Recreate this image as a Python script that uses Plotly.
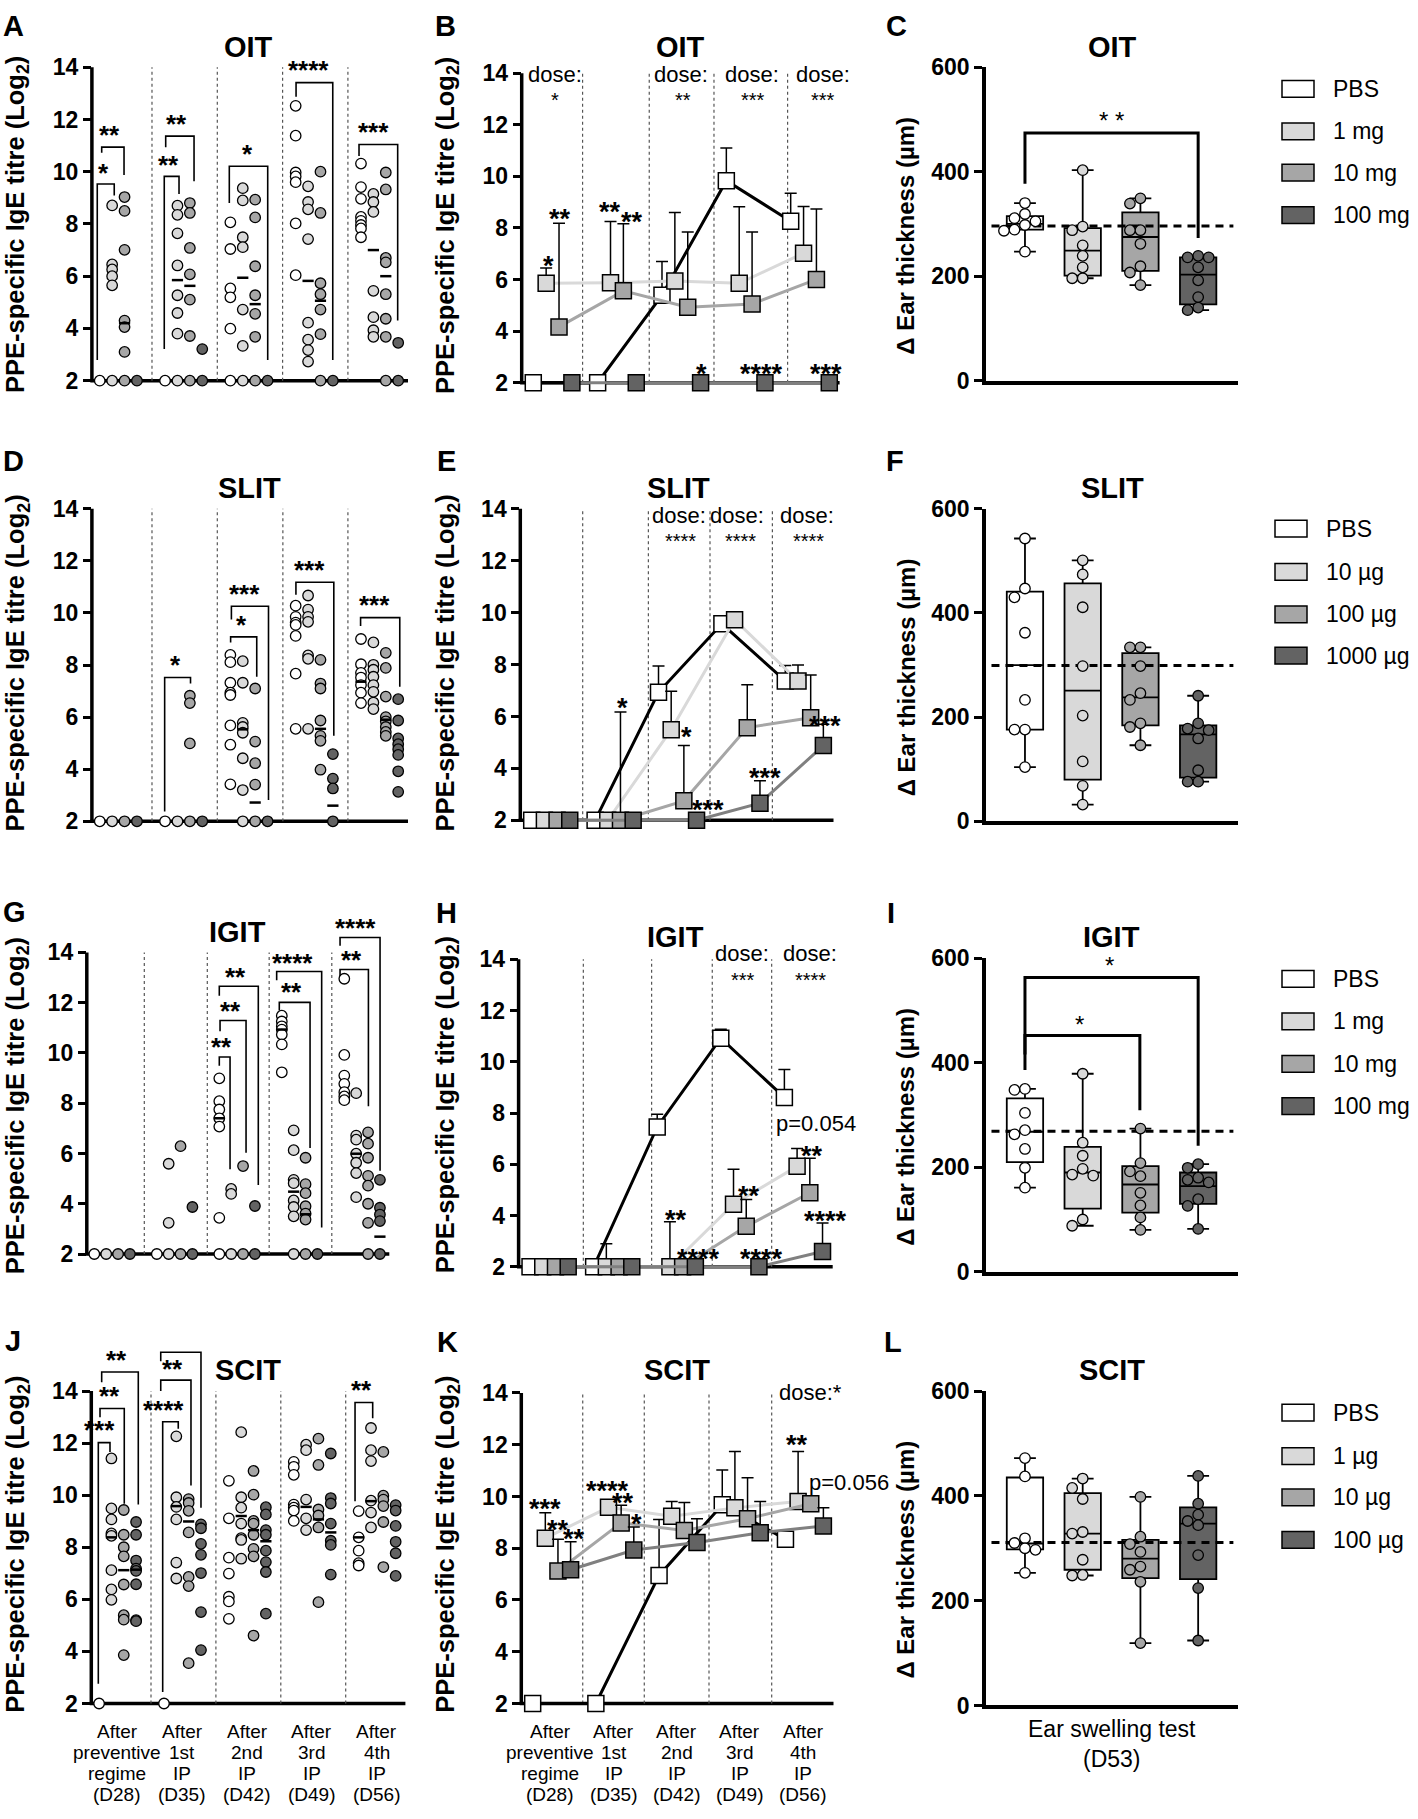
import plotly.graph_objects as go

W, H = 1418, 1819
FONT = "Liberation Sans, Arial, sans-serif"

# fill / line colours for PBS and the three doses
FILL = ["#ffffff", "#d9d9d9", "#a6a6a6", "#636363"]
TRACE = ["#000000", "#d9d9d9", "#a6a6a6", "#808080"]

timepoints = ["After<br>preventive<br>regime<br>(D28)", "After<br>1st<br>IP<br>(D35)",
              "After<br>2nd<br>IP<br>(D42)", "After<br>3rd<br>IP<br>(D49)",
              "After<br>4th<br>IP<br>(D56)"]

oit_doses = ["PBS", "1 mg", "10 mg", "100 mg"]
slit_doses = ["PBS", "10 µg", "100 µg", "1000 µg"]
igit_doses = ["PBS", "1 mg", "10 mg", "100 mg"]
scit_doses = ["PBS", "1 µg", "10 µg", "100 µg"]

# individual PPE-specific IgE titres (log2), [timepoint][dose]
oit_titre = [
    [[2], [8.71, 6.45, 6.26, 6.0, 5.65, 2], [9.03, 8.5, 7.01, 4.3, 4.05, 3.1, 2], [2]],
    [[2], [8.7, 8.35, 7.64, 6.41, 5.27, 4.59, 3.8, 2], [8.8, 8.42, 7.08, 6.07, 5.1, 3.71, 2], [3.21, 2]],
    [[8.06, 7.04, 5.53, 5.19, 3.99, 2], [9.37, 8.9, 7.49, 7.11, 4.72, 3.33, 2],
     [8.93, 8.25, 6.38, 5.27, 4.56, 3.68, 2], [2]],
    [[12.52, 11.38, 9.97, 9.82, 9.6, 8.02, 6.04], [9.44, 8.84, 8.56, 7.42, 4.22, 3.57, 3.17, 2.73],
     [10.0, 8.42, 5.73, 5.31, 4.72, 3.78, 2], [2]],
    [[10.31, 9.41, 8.96, 8.27, 8.12, 7.96, 7.83, 7.49], [9.15, 8.84, 8.46, 5.44, 4.43, 3.93, 3.68],
     [9.97, 9.32, 6.7, 6.53, 5.31, 4.37, 3.68, 2], [3.45, 2]],
]
slit_titre = [
    [[2], [2], [2], [2]],
    [[2], [2], [6.82, 6.54, 4.99, 2], [2]],
    [[8.39, 8.11, 7.32, 6.94, 6.85, 5.68, 4.94, 3.42], [8.15, 7.32, 5.78, 5.62, 5.4, 4.42, 3.2, 2],
     [7.1, 5.06, 4.23, 3.41, 2], [2]],
    [[10.28, 9.85, 9.63, 9.54, 9.12, 7.67, 5.55], [10.67, 10.13, 9.85, 9.66, 8.37, 8.24, 5.55],
     [8.2, 7.29, 7.1, 5.87, 5.28, 5.09, 3.98], [4.58, 3.64, 3.26, 2]],
    [[9.0, 8.03, 7.7, 7.52, 7.23, 6.94, 6.54], [8.87, 8.01, 7.82, 7.55, 7.23, 6.97, 6.56, 6.31],
     [8.47, 7.89, 6.79, 6.0, 5.84, 5.62, 5.43, 5.28], [6.69, 5.87, 5.18, 4.96, 4.77, 4.55, 3.92, 3.13]],
]
igit_titre = [
    [[2], [2], [2], [2]],
    [[2], [5.59, 3.24, 2], [6.29, 2], [3.87, 2]],
    [[8.99, 8.08, 7.75, 7.4, 7.07, 3.44, 2], [4.59, 4.39, 2], [5.5, 2], [3.91, 2]],
    [[11.48, 11.25, 11.06, 10.93, 10.73, 10.34, 9.23], [6.92, 6.13, 4.95, 4.82, 4.13, 3.87, 3.5, 2],
     [5.83, 4.78, 4.42, 3.9, 3.61, 3.37, 2], [2]],
    [[12.95, 9.92, 9.1, 8.77, 8.44, 8.27, 8.12], [8.4, 6.71, 6.55, 5.99, 5.63, 5.22, 4.26],
     [6.84, 6.39, 5.83, 5.11, 4.72, 4.0, 3.24, 2], [4.95, 3.84, 3.57, 3.31, 2]],
]
scit_titre = [
    [[2], [11.41, 9.49, 9.07, 8.53, 8.44, 7.12, 6.38, 5.98], [9.43, 8.48, 8.0, 7.65, 6.57, 5.39, 5.22, 3.86],
     [8.97, 8.48, 7.49, 7.18, 7.09, 6.58, 5.2, 5.16]],
    [[2], [12.26, 9.92, 9.55, 9.07, 7.41, 6.8], [9.85, 9.7, 9.4, 8.57, 6.86, 6.51, 3.55],
     [8.88, 8.73, 8.13, 7.71, 7.01, 5.51, 4.05]],
    [[10.55, 9.11, 7.6, 6.99, 6.1, 5.92, 5.25], [12.42, 9.92, 9.52, 8.91, 8.35, 8.28, 7.56],
     [10.93, 10.02, 9.01, 8.91, 8.48, 7.94, 7.65, 4.61], [9.54, 9.26, 8.66, 8.48, 7.87, 7.43, 7.05, 5.45]],
    [[11.28, 11.09, 10.78, 9.64, 9.52, 9.41, 9.01], [11.94, 11.73, 9.83, 9.11, 8.66],
     [12.17, 11.16, 9.45, 9.22, 8.76, 5.89], [11.6, 9.89, 9.68, 8.91, 8.25, 8.09, 6.95]],
    [[9.39, 8.38, 7.87, 7.39, 7.3], [12.58, 11.73, 11.31, 9.79, 9.33, 8.76],
     [11.66, 9.98, 9.83, 9.58, 8.97, 7.24], [9.62, 9.41, 8.82, 8.21, 7.77, 6.9]],
]

# group means shown as short dashes: (timepoint, dose, mean)
oit_titre_mean = [(0, 2, 4.2), (1, 1, 5.85), (1, 2, 5.63), (2, 1, 5.94), (2, 2, 4.93),
                  (3, 1, 5.82), (3, 2, 5.06), (4, 1, 7.0), (4, 2, 6.0)]
slit_titre_mean = [(2, 1, 5.53), (2, 2, 2.72), (3, 2, 5.55), (3, 3, 2.6), (4, 0, 7.36), (4, 2, 5.9)]
igit_titre_mean = [(2, 0, 7.4), (3, 0, 10.93), (3, 1, 4.48), (3, 2, 3.58), (4, 1, 5.99), (4, 3, 2.69)]
scit_titre_mean = [(0, 1, 8.38), (0, 2, 7.12), (0, 3, 7.14), (1, 1, 9.58), (1, 2, 8.99), (2, 1, 9.2),
                   (2, 2, 8.66), (2, 3, 8.23), (3, 1, 9.55), (3, 2, 9.07), (3, 3, 8.57), (4, 0, 8.38),
                   (4, 1, 9.77)]

# time course: mean titre and upper SD, [dose][timepoint]
oit_course = [[2, 2, 5.39, 9.83, 8.26], [5.85, 5.87, 5.94, 5.85, 7.02],
              [4.16, 5.56, 4.92, 5.05, 6.0], [2, 2, 2, 2, 2]]
oit_course_sd = [[0, 0, 1.31, 1.27, 1.08], [0.59, 2.38, 2.66, 2.97, 1.81],
                 [4.02, 2.6, 2.92, 2.79, 2.73], [0, 0, 0, 0, 0]]
slit_course = [[2, 2, 6.93, 9.57, 7.37], [2, 2, 5.49, 9.73, 7.37],
               [2, 2, 2.75, 5.57, 5.95], [2, 2, 2, 2.66, 4.88]]
slit_course_sd = [[0, 0, 1.01, 0, 0.59], [0, 0, 1.48, 0, 0.61],
                  [0, 4.17, 2.13, 1.65, 1.65], [0, 0, 0, 0.86, 0.82]]
igit_course = [[2, 2, 7.46, 10.92, 8.61], [2, 2, 2, 4.44, 5.92],
               [2, 2, 2, 3.58, 4.89], [2, 2, 2, 2, 2.6]]
igit_course_sd = [[0, 0, 0.49, 0.35, 1.09], [0, 0.9, 1.76, 1.37, 0.7],
                  [0, 0, 0, 1.05, 1.35], [0, 0, 0, 0, 1.11]]
scit_course = [[2, 2, 6.95, 9.68, 8.35], [8.39, 9.58, 9.24, 9.56, 9.81],
               [7.12, 8.98, 8.69, 9.14, 9.72], [7.17, 7.93, 8.22, 8.6, 8.86]]
scit_course_sd = [[0, 0, 2.16, 1.34, 0], [0.98, 0, 0.57, 2.18, 1.93],
                  [1.23, 0.68, 1.08, 1.58, 0], [1.08, 0.89, 0.92, 1.21, 0.7]]

# ear swelling (µm) per dose, box quartiles (q1, median, q3) and PBS reference
oit_ear = [[340, 319, 311, 305, 298, 289, 287, 247], [403, 295, 288, 259, 239, 217, 196, 196],
           [349, 339, 288, 288, 262, 219, 207, 183], [239, 236, 236, 217, 192, 160, 140, 135]]
oit_ear_box = [(289, 300, 315), (201, 249, 292), (210, 275, 322), (146, 203, 236)]
oit_ear_ref = 296
slit_ear = [[543, 447, 430, 362, 233, 176, 176, 104], [501, 474, 411, 298, 203, 115, 68, 32],
            [334, 334, 298, 246, 233, 188, 181, 146], [241, 188, 178, 175, 159, 98, 76, 76]]
slit_ear_box = [(176, 300, 441), (80, 251, 457), (184, 238, 323), (84, 167, 184)]
slit_ear_ref = 299
igit_ear = [[350, 348, 304, 271, 263, 235, 199, 161], [379, 247, 222, 197, 186, 184, 100, 88],
            [274, 208, 192, 183, 151, 127, 104, 80], [206, 199, 180, 176, 171, 139, 126, 82]]
igit_ear_box = [(210, 268, 332), (121, 190, 239), (113, 167, 202), (130, 164, 190)]
igit_ear_ref = 269
scit_ear = [[472, 437, 319, 310, 300, 297, 253], [433, 415, 394, 331, 328, 278, 249, 248],
            [398, 322, 308, 293, 265, 259, 236, 119], [438, 385, 364, 352, 344, 287, 224, 124]]
scit_ear_box = [(298, 309, 435), (259, 328, 405), (243, 280, 316), (241, 347, 378)]
scit_ear_ref = 311

# significance brackets: (x left, x right, y top, y left end, y right end, label, label x, label y)
oit_titre_sig = [(0.81, 2.11, 9.53, 2.79, 9.09, "*", 1.32, 10.2),
                 (1.15, 2.86, 10.94, 10.73, 9.87, "**", 1.73, 11.65),
                 (5.94, 7.07, 9.82, 3.21, 9.15, "**", 6.25, 10.48),
                 (6.05, 8.22, 11.36, 10.94, 9.63, "**", 6.89, 12.05),
                 (10.92, 13.86, 10.21, 8.8, 2.79, "*", 12.3, 10.92),
                 (16.03, 18.84, 13.41, 12.87, 2.79, "****", 16.97, 14.13),
                 (20.85, 23.81, 11.04, 10.6, 4.3, "***", 21.95, 11.74)]
slit_titre_sig = [(5.97, 7.95, 7.52, 2.38, 7.29, "*", 6.79, 8.24),
                  (11.02, 13.02, 9.08, 8.87, 7.55, "*", 11.87, 9.79),
                  (11.08, 13.92, 10.26, 9.75, 2.82, "***", 12.05, 10.95),
                  (16.02, 18.92, 11.18, 10.7, 5.28, "***", 17.05, 11.9),
                  (20.97, 23.97, 9.82, 9.5, 7.17, "***", 22.05, 10.55)]
igit_titre_sig = [(11.0, 11.86, 9.84, 9.49, 5.37, "**", 11.19, 10.5),
                  (11.06, 13.14, 11.29, 10.86, 6.03, "**", 11.86, 11.93),
                  (11.0, 14.12, 12.65, 12.27, 4.75, "**", 12.28, 13.28),
                  (15.8, 18.26, 12.01, 11.69, 6.22, "**", 16.79, 12.67),
                  (15.59, 19.19, 13.24, 12.89, 3.05, "****", 16.87, 13.84),
                  (20.66, 22.93, 13.32, 13.06, 7.88, "**", 21.59, 13.96),
                  (20.66, 23.86, 14.59, 14.26, 5.31, "****", 21.86, 15.2)]
scit_titre_sig = [(0.94, 1.84, 12.02, 2.76, 11.66, "***", 1.07, 12.74),
                  (1.07, 2.94, 13.33, 12.99, 9.67, "**", 1.84, 14.04),
                  (1.2, 4.02, 14.73, 14.34, 9.64, "**", 2.36, 15.43),
                  (5.9, 7.1, 12.82, 2.44, 12.55, "****", 6.0, 13.52),
                  (5.75, 8.08, 14.42, 14.0, 10.37, "**", 6.67, 15.1),
                  (5.75, 8.85, 15.49, 15.14, 9.52, "*", 7.23, 16.15),
                  (20.72, 22.08, 13.56, 9.77, 12.95, "**", 21.18, 14.29)]
oit_ear_sig = [(1, 4, 474, 377, 273, "* *", 2.5, 509)]
igit_ear_sig = [(1, 2.99, 452, 386, 309, "*", 1.95, 485),
                (1, 4, 563, 416, 241, "*", 2.46, 597)]

# time course notes: (x, y, text, style)
oit_course_notes = [(2.68, 13.94, "dose:", "dose"), (2.68, 13.14, "*", "dstar"),
                    (12.47, 13.94, "dose:", "dose"), (12.66, 13.14, "**", "dstar"),
                    (17.96, 13.94, "dose:", "dose"), (18.09, 13.14, "***", "dstar"),
                    (23.48, 13.94, "dose:", "dose"), (23.53, 13.14, "***", "dstar"),
                    (2.17, 6.76, "*", "star"), (3.07, 8.6, "**", "star"), (6.96, 8.86, "**", "star"),
                    (8.64, 8.48, "**", "star"), (14.08, 2.6, "*", "star"), (18.74, 2.6, "****", "star"),
                    (23.74, 2.6, "***", "star")]
slit_course_notes = [(12.65, 13.75, "dose:", "dose"), (12.7, 12.96, "****", "dstar"),
                     (17.17, 13.75, "dose:", "dose"), (17.43, 12.96, "****", "dstar"),
                     (22.74, 13.75, "dose:", "dose"), (22.82, 12.96, "****", "dstar"),
                     (8.15, 6.59, "*", "star"), (13.22, 5.45, "*", "star"), (14.93, 2.66, "***", "star"),
                     (19.4, 3.89, "***", "star"), (24.13, 5.89, "***", "star")]
igit_course_notes = [(17.69, 14.23, "dose:", "dose"), (17.77, 13.36, "***", "dstar"),
                     (23.03, 14.23, "dose:", "dose"), (23.03, 13.36, "****", "dstar"),
                     (12.44, 4.09, "**", "star"), (14.28, 2.55, "****", "star"),
                     (19.19, 2.55, "****", "star"), (18.22, 5.02, "**", "star"),
                     (23.21, 6.56, "**", "star"), (24.26, 4.05, "****", "star"),
                     (20.19, 7.58, "p=0.054", "p")]
scit_course_notes = [(20.31, 14.0, "dose:*", "p"), (1.98, 9.75, "***", "star"), (3.03, 8.95, "**", "star"),
                     (4.27, 8.6, "**", "star"), (6.91, 10.47, "****", "star"), (8.17, 10.0, "**", "star"),
                     (9.23, 9.2, "*", "star"), (21.89, 12.25, "**", "star"),
                     (22.68, 10.55, "p=0.056", "p")]

fig = go.Figure()
shapes, anns = [], []
layout = dict(width=W, height=H, margin=dict(l=0, r=0, t=0, b=0),
              paper_bgcolor="white", plot_bgcolor="white", showlegend=False)


def sfx(n):
    return "" if n == 1 else str(n)


def ydom(cal, rng):
    v_top, px_top, v_bot, px_bot = cal
    k = (px_bot - px_top) / (v_top - v_bot)
    top = px_top - (rng[1] - v_top) * k
    bot = px_bot + (v_bot - rng[0]) * k
    return [1 - bot / H, 1 - top / H]


def setup_axes(n, kind, xpx, cal):
    if kind == "box":
        xr, yr = [0.325, 4.69], [0, 600]
    elif kind == "dots":
        xr, yr = [0.4, 24.6], [1.5, 16]
    else:
        xr, yr = [0.1, 24.8], [1.5, 16]
    tickfont = dict(family=FONT, size=23, color="black", weight="bold")
    box = kind == "box"
    layout["xaxis" + sfx(n)] = dict(domain=[xpx[0] / W, xpx[1] / W], range=xr, anchor="y" + sfx(n),
                                    showgrid=False, zeroline=False, ticks="", showticklabels=False,
                                    showline=box, linewidth=3.5, linecolor="black")
    layout["yaxis" + sfx(n)] = dict(domain=ydom(cal, yr), range=yr, anchor="x" + sfx(n),
                                    showgrid=False, zeroline=False, ticks="outside", ticklen=8,
                                    tickwidth=3, tickcolor="black", tickfont=tickfont,
                                    tickvals=[0, 200, 400, 600] if box else list(range(2, 15, 2)),
                                    showline=box, linewidth=3.5, linecolor="black")
    if not box:
        xa, ya = "x" + sfx(n), "y" + sfx(n)
        shapes.append(dict(type="line", xref=xa + " domain", yref=ya, x0=0, x1=0, y0=2, y1=14,
                           layer="below", line=dict(color="black", width=3.5)))
        shapes.append(dict(type="line", xref=xa + " domain", yref=ya, x0=-0.005, x1=1, y0=2, y1=2,
                           layer="below", line=dict(color="black", width=3.5)))


def text_ann(n, x, y, text, size, bold=False, star=False, xanchor="center"):
    anns.append(dict(xref="x" + sfx(n), yref="y" + sfx(n), x=x, y=y, text=text, showarrow=False,
                     xanchor=xanchor, yanchor="middle", yshift=-0.24 * size if star else 0,
                     font=dict(family=FONT, size=size, color="black",
                               weight="bold" if bold else "normal")))


def paper_ann(px, py, text, size, bold=False, angle=0, xanchor="center"):
    anns.append(dict(xref="paper", yref="paper", x=px / W, y=1 - py / H, text=text, showarrow=False,
                     xanchor=xanchor, yanchor="middle", textangle=angle,
                     font=dict(family=FONT, size=size, color="black",
                               weight="bold" if bold else "normal")))


def add_dividers(n, divs):
    for d in divs:
        shapes.append(dict(type="line", xref="x" + sfx(n), yref="y" + sfx(n), x0=d, x1=d, y0=2, y1=14,
                           layer="below", line=dict(color="#555555", width=1.2, dash="dot")))


def add_sig(n, sig, lw, size, bold):
    for xl, xr, yt, yl, yr, lab, lx, ly in sig:
        fig.add_trace(go.Scatter(x=[xl, xl, xr, xr], y=[yl, yt, yt, yr], mode="lines",
                                 line=dict(color="black", width=lw), xaxis="x" + sfx(n),
                                 yaxis="y" + sfx(n), hoverinfo="skip", showlegend=False))
        text_ann(n, lx, ly, lab, size, bold=bold, star=True)


def add_dots(n, titres, means, sig, divs):
    xa, ya = "x" + sfx(n), "y" + sfx(n)
    add_dividers(n, divs)
    for d in range(4):
        xs, ys = [], []
        for g in range(5):
            for v in titres[g][d]:
                xs.append(5 * g + 1 + 0.95 * d)
                ys.append(v)
        fig.add_trace(go.Scatter(x=xs, y=ys, mode="markers", cliponaxis=False,
                                 marker=dict(symbol="circle", size=10.5, color=FILL[d],
                                             line=dict(color="black", width=1.3)),
                                 xaxis=xa, yaxis=ya, hoverinfo="skip", showlegend=False))
    fig.add_trace(go.Scatter(x=[5 * g + 1 + 0.95 * d for g, d, v in means], y=[v for g, d, v in means],
                             mode="markers", cliponaxis=False,
                             marker=dict(symbol="line-ew", size=8, line=dict(color="black", width=2.5)),
                             xaxis=xa, yaxis=ya, hoverinfo="skip", showlegend=False))
    add_sig(n, sig, 1.6, 26, True)


def add_course(n, course, sd, notes, divs):
    xa, ya = "x" + sfx(n), "y" + sfx(n)
    add_dividers(n, divs)
    for d in range(4):
        fig.add_trace(go.Scatter(
            x=[5 * g + 1 + d for g in range(5)], y=course[d], mode="lines+markers", cliponaxis=False,
            line=dict(color=TRACE[d], width=3),
            marker=dict(symbol="square", size=16, color=FILL[d], line=dict(color="black", width=1.5)),
            error_y=dict(type="data", array=sd[d], arrayminus=[0] * 5, symmetric=False,
                         color="black", thickness=1.5, width=6),
            xaxis=xa, yaxis=ya, hoverinfo="skip", showlegend=False))
    styles = {"dose": (22, False, False, "center"), "dstar": (20, False, True, "center"),
              "star": (27, True, True, "center"), "p": (22, False, False, "left")}
    for x, y, text, st in notes:
        size, bold, star, anchor = styles[st]
        text_ann(n, x, y, text, size, bold=bold, star=star, xanchor=anchor)


def swarm(values, ky, kx, diam=10.5):
    placed, offs = [], [0.0] * len(values)
    for i in sorted(range(len(values)), key=lambda i: -values[i]):
        y = values[i] * ky
        for m in [0, -1, 1, -2, 2, -3, 3]:
            x = m * diam
            if all((x - px) ** 2 + (y - py) ** 2 >= (0.95 * diam) ** 2 for px, py in placed):
                break
        placed.append((x, y))
        offs[i] = x / kx
    return offs


def add_box(n, ear, box, ref, sig, doses, leg_x, leg_rows, cal):
    xa, ya = "x" + sfx(n), "y" + sfx(n)
    for d in range(4):
        q1, med, q3 = box[d]
        fig.add_trace(go.Box(x=[d + 1], q1=[q1], median=[med], q3=[q3], lowerfence=[min(ear[d])],
                             upperfence=[max(ear[d])], orientation="v", width=0.63, whiskerwidth=0.6,
                             fillcolor=FILL[d], line=dict(color="black", width=1.8), boxpoints=False,
                             xaxis=xa, yaxis=ya, hoverinfo="skip", showlegend=False))
    fig.add_trace(go.Scatter(x=[0.42, 4.61], y=[ref, ref], mode="lines",
                             line=dict(color="black", width=3, dash="8px,6px"),
                             xaxis=xa, yaxis=ya, hoverinfo="skip", showlegend=False))
    ky = (cal[3] - cal[1]) / 600
    kx = 252 / (4.69 - 0.325)
    for d in range(4):
        offs = swarm(ear[d], ky, kx)
        fig.add_trace(go.Scatter(x=[d + 1 + o for o in offs], y=ear[d], mode="markers", cliponaxis=False,
                                 marker=dict(size=10.5, color=FILL[d], line=dict(color="black", width=1.3)),
                                 xaxis=xa, yaxis=ya, hoverinfo="skip", showlegend=False))
    for xl, xr, yt, yl, yr, lab, lx, ly in sig:
        fig.add_trace(go.Scatter(x=[xl, xl, xr, xr], y=[yl, yt, yt, yr], mode="lines",
                                 line=dict(color="black", width=3), xaxis=xa, yaxis=ya,
                                 hoverinfo="skip", showlegend=False))
        text_ann(n, lx, ly, lab, 24, star=True)
    for d, lab in enumerate(doses):
        yc = leg_rows[d]
        shapes.append(dict(type="rect", xref="paper", yref="paper", x0=leg_x / W, x1=(leg_x + 32) / W,
                           y0=1 - (yc + 8.5) / H, y1=1 - (yc - 8.5) / H, fillcolor=FILL[d],
                           line=dict(color="black", width=1.5)))
        paper_ann(leg_x + 49, yc, lab, 23, xanchor="left")


# ---- panel geometry (pixel calibration) ----
cal = {
    "A": (14, 55, 2, 373), "B": (14, 61, 2, 375), "C": (600, 55, 0, 373),
    "D": (14, 503, 2, 820), "E": (14, 503, 2, 819), "F": (600, 503, 0, 820),
    "G": (14, 953, 2, 1259), "H": (14, 960, 2, 1272), "I": (600, 959, 0, 1277),
    "J": (14, 1398, 2, 1715), "K": (14, 1400, 2, 1715), "L": (600, 1398, 0, 1717),
}
setup_axes(1, "dots", (91.9, 408), cal["A"])
setup_axes(2, "course", (521.7, 839.6), cal["B"])
setup_axes(3, "box", (986, 1238), cal["C"])
setup_axes(4, "dots", (91.9, 408), cal["D"])
setup_axes(5, "course", (520.3, 833.5), cal["E"])
setup_axes(6, "box", (986, 1238), cal["F"])
setup_axes(7, "dots", (86.8, 389.3), cal["G"])
setup_axes(8, "course", (518.6, 832.7), cal["H"])
setup_axes(9, "box", (986, 1238), cal["I"])
setup_axes(10, "dots", (91.3, 405.4), cal["J"])
setup_axes(11, "course", (521.3, 833.5), cal["K"])
setup_axes(12, "box", (986, 1238), cal["L"])

add_dots(1, oit_titre, oit_titre_mean, oit_titre_sig, [5, 10, 15, 20])
add_dots(4, slit_titre, slit_titre_mean, slit_titre_sig, [5, 10, 15.02, 20])
add_dots(7, igit_titre, igit_titre_mean, igit_titre_sig, [5, 10.04, 14.99, 20])
add_dots(10, scit_titre, scit_titre_mean, scit_titre_sig, [5, 10, 15, 20])

add_course(2, oit_course, oit_course_sd, oit_course_notes, [4.83, 10.01, 15.04, 20.76])
add_course(5, slit_course, slit_course_sd, slit_course_notes, [5.02, 10.2, 15.06, 19.98])
add_course(8, igit_course, igit_course_sd, igit_course_notes, [5.19, 10.56, 15.33, 20.0])
add_course(11, scit_course, scit_course_sd, scit_course_notes, [4.96, 9.83, 14.95, 19.91])

add_box(3, oit_ear, oit_ear_box, oit_ear_ref, oit_ear_sig, oit_doses, 1282, [77, 120, 162, 205], cal["C"])
add_box(6, slit_ear, slit_ear_box, slit_ear_ref, [], slit_doses, 1275, [523, 567, 610, 652], cal["F"])
add_box(9, igit_ear, igit_ear_box, igit_ear_ref, igit_ear_sig, igit_doses, 1282, [980, 1023, 1066, 1109], cal["I"])
add_box(12, scit_ear, scit_ear_box, scit_ear_ref, [], scit_doses, 1282, [1420, 1464, 1506, 1549], cal["L"])

# x labels under the SCIT titre panels, one line at a time
for n in (10, 11):
    for g, lab in enumerate(timepoints):
        for i, part in enumerate(lab.split("<br>")):
            anns.append(dict(xref="x" + sfx(n), yref="paper", x=5 * g + 2.4, y=1 - (1743 + 21.5 * i) / H,
                             text=part, showarrow=False, xanchor="center", yanchor="middle",
                             font=dict(family=FONT, size=19, color="black")))
paper_ann(1112, 1756, "Ear swelling test<br>(D53)", 23)

# titles, panel letters, axis titles
for px, py, t in [(248, 35, "OIT"), (680, 35, "OIT"), (1112, 35, "OIT"),
                  (249, 482, "SLIT"), (678, 482, "SLIT"), (1112, 482, "SLIT"),
                  (237, 932, "IGIT"), (675, 937, "IGIT"), (1111, 937, "IGIT"),
                  (248, 1377, "SCIT"), (677, 1377, "SCIT"), (1112, 1377, "SCIT")]:
    paper_ann(px, py, t, 29, bold=True)
for px, py, t in [(13, 13, "A"), (445, 13, "B"), (896, 13, "C"),
                  (13, 455, "D"), (446, 455, "E"), (895, 455, "F"),
                  (14, 912, "G"), (446, 913, "H"), (891, 913, "I"),
                  (13, 1347, "J"), (447, 1348, "K"), (893, 1348, "L")]:
    paper_ann(px, py, t, 29, bold=True)
ige_title = "PPE-specific IgE titre (Log<sub>2</sub>)"
for px, py in [(17, 215), (447, 216), (17, 660), (447, 660), (17, 1109), (447, 1108), (17, 1554), (447, 1554)]:
    paper_ann(px, py, ige_title, 25.5, bold=True, angle=-90)
for py in (226, 674, 1130, 1569):
    paper_ann(906, py, "Δ Ear thickness (µm)", 24, bold=True, angle=-90)

layout["shapes"] = shapes
layout["annotations"] = anns
fig.update_layout(**layout)
# keep the figure flush with the page corner, no toolbar
fig.write_html("out.html", config={"displayModeBar": False},
               post_script="document.body.style.margin='0';")
